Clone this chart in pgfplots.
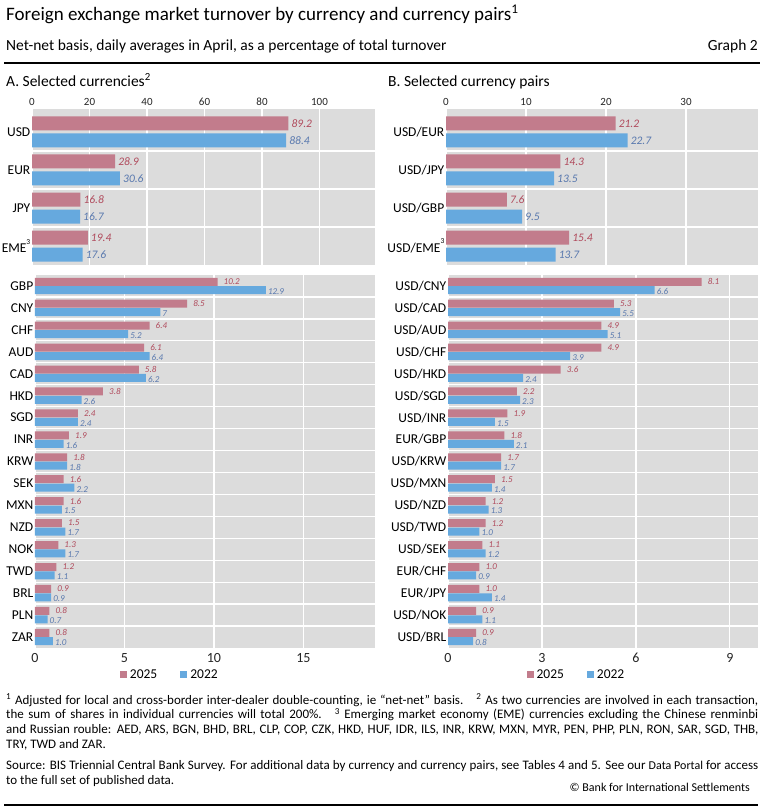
\documentclass[border=0pt]{standalone}
\usepackage{fontspec}
\setmainfont{Carlito}
\usepackage{pgfplots}
\pgfplotsset{compat=1.18}
\definecolor{bispink}{HTML}{C27C8C}
\definecolor{bisblue}{HTML}{66A9DE}
\definecolor{bisgray}{HTML}{DCDCDC}
\definecolor{labred}{HTML}{B04A5C}
\definecolor{labblue}{HTML}{5878AE}
\newcommand{\fs}[1]{\fontsize{#1}{#1}\selectfont}
\newcommand{\supthree}{\raisebox{0.62em}{\fs{7.5}3}}

\pgfplotsset{
  bis/.style={
    xbar, scale only axis, clip=false, xmin=0,
    axis background/.style={fill=bisgray},
    axis line style={draw=none},
    major tick length=0pt,
    xmajorgrids=true, ymajorgrids=false,
    grid style={white, line width=1.3pt},
    tick style={draw=none},
    yticklabel style={font=\fs{13.5}, text=black, inner sep=1.5pt},
    xticklabel style={text=black!85},
    /pgf/number format/assume math mode=true,
    point meta=explicit symbolic,
    nodes near coords,
    extra y tick style={grid=major, major tick length=0pt},
    extra y tick labels={},
  },
  bistop/.style={
    bis, height=156pt, ymin=0.5, ymax=4.605,
    ytick={1,2,3,4}, extra y ticks={1.5,2.5,3.5},
    xticklabel pos=upper,
    xticklabel style={font=\fs{11}},
  },
  bisbot/.style={
    bis, height=373pt, ymin=0.5, ymax=17.5,
    ytick={1,...,17}, extra y ticks={1.5,2.5,...,16.5},
    xticklabel style={font=\fs{14}, yshift=-2pt},
    legend style={anchor=center, draw=none, fill=none, font=\fs{13.5},
      legend columns=2, /tikz/every even column/.append style={column sep=20pt},
      /tikz/every odd column/.append style={column sep=0pt},
      nodes={inner sep=3pt}},
    legend image code/.code={\fill[##1, draw=none] (0pt,-3.5pt) rectangle (7pt,3.5pt);},
  },
  pinktop/.style={fill=bispink, draw=none, bar width=14pt, bar shift=8.5pt,
    every node near coord/.append style={anchor=west, text=labred, font=\fs{11.5}\itshape, inner sep=3pt}},
  bluetop/.style={fill=bisblue, draw=none, bar width=14pt, bar shift=-8.5pt,
    every node near coord/.append style={anchor=west, text=labblue, font=\fs{11.5}\itshape, inner sep=3pt}},
  pinkbot/.style={fill=bispink, draw=none, bar width=8pt, bar shift=4.2pt,
    every node near coord/.append style={anchor=west, text=labred, font=\fs{9}\itshape, inner sep=2pt, xshift=4pt}},
  bluebot/.style={fill=bisblue, draw=none, bar width=8pt, bar shift=-4.2pt,
    every node near coord/.append style={anchor=west, text=labblue, font=\fs{9}\itshape, inner sep=2pt, yshift=-1.5pt}},
}

\begin{document}
\begin{tikzpicture}
\path[use as bounding box, fill=white] (0,0) rectangle (764pt,-812pt);

% Titles
\node[anchor=base west, inner sep=0] at (6pt,-20pt) {\fs{19}Foreign exchange market turnover by currency and currency pairs\textsuperscript{1}};
\node[anchor=base west, inner sep=0] at (6pt,-50pt) {\fs{15.5}Net-net basis, daily averages in April, as a percentage of total turnover};
\node[anchor=base east, inner sep=0] at (758pt,-50pt) {\fs{15.5}Graph 2};
\draw[line width=2pt] (4pt,-63pt) -- (760pt,-63pt);
\node[anchor=base west, inner sep=0] at (6pt,-86pt) {\fs{15.5}A. Selected currencies\textsuperscript{2}};
\node[anchor=base west, inner sep=0] at (388pt,-86pt) {\fs{15.5}B. Selected currency pairs};

% Panel A top
\begin{axis}[bistop, at={(32pt,-109pt)}, anchor=north west, width=343pt,
  xmax=119.3, xtick={0,20,40,60,80,100},
  yticklabels={EME\supthree,JPY,EUR,USD}]
\addplot[pinktop] coordinates {(89.2,4)[89.2] (28.9,3)[28.9] (16.8,2)[16.8] (19.4,1)[19.4]};
\addplot[bluetop] coordinates {(88.4,4)[88.4] (30.6,3)[30.6] (16.7,2)[16.7] (17.6,1)[17.6]};
\end{axis}

% Panel B top
\begin{axis}[bistop, at={(446pt,-109pt)}, anchor=north west, width=312pt,
  xmax=39, xtick={0,10,20,30},
  yticklabels={USD/EME\supthree,USD/GBP,USD/JPY,USD/EUR}]
\addplot[pinktop] coordinates {(21.2,4)[21.2] (14.3,3)[14.3] (7.6,2)[7.6] (15.4,1)[15.4]};
\addplot[bluetop] coordinates {(22.7,4)[22.7] (13.5,3)[13.5] (9.5,2)[9.5] (13.7,1)[13.7]};
\end{axis}

% Panel A bottom
\begin{axis}[bisbot, at={(35pt,-275pt)}, anchor=north west, width=340pt,
  xmax=19, xtick={0,5,10,15},
  yticklabels={ZAR,PLN,BRL,TWD,NOK,NZD,MXN,SEK,KRW,INR,SGD,HKD,CAD,AUD,CHF,CNY,GBP},
  legend style={at={(0.398,-0.072)}}]
\addplot[pinkbot] coordinates {(10.2,17)[10.2] (8.5,16)[8.5] (6.4,15)[6.4] (6.1,14)[6.1] (5.8,13)[5.8] (3.8,12)[3.8] (2.4,11)[2.4] (1.9,10)[1.9] (1.8,9)[1.8] (1.6,8)[1.6] (1.6,7)[1.6] (1.5,6)[1.5] (1.3,5)[1.3] (1.2,4)[1.2] (0.9,3)[0.9] (0.8,2)[0.8] (0.8,1)[0.8]};
\addlegendentry{2025}
\addplot[bluebot] coordinates {(12.9,17)[12.9] (7,16)[7] (5.2,15)[5.2] (6.4,14)[6.4] (6.2,13)[6.2] (2.6,12)[2.6] (2.4,11)[2.4] (1.6,10)[1.6] (1.8,9)[1.8] (2.2,8)[2.2] (1.5,7)[1.5] (1.7,6)[1.7] (1.7,5)[1.7] (1.1,4)[1.1] (0.9,3)[0.9] (0.7,2)[0.7] (1.0,1)[1.0]};
\addlegendentry{2022}
\end{axis}

% Panel B bottom
\begin{axis}[bisbot, at={(448pt,-275pt)}, anchor=north west, width=310pt,
  xmax=9.9, xtick={0,3,6,9},
  yticklabels={USD/BRL,USD/NOK,EUR/JPY,EUR/CHF,USD/SEK,USD/TWD,USD/NZD,USD/MXN,USD/KRW,EUR/GBP,USD/INR,USD/SGD,USD/HKD,USD/CHF,USD/AUD,USD/CAD,USD/CNY},
  legend style={at={(0.416,-0.072)}}]
\addplot[pinkbot] coordinates {(8.1,17)[8.1] (5.3,16)[5.3] (4.9,15)[4.9] (4.9,14)[4.9] (3.6,13)[3.6] (2.2,12)[2.2] (1.9,11)[1.9] (1.8,10)[1.8] (1.7,9)[1.7] (1.5,8)[1.5] (1.2,7)[1.2] (1.2,6)[1.2] (1.1,5)[1.1] (1.0,4)[1.0] (1.0,3)[1.0] (0.9,2)[0.9] (0.9,1)[0.9]};
\addlegendentry{2025}
\addplot[bluebot] coordinates {(6.6,17)[6.6] (5.5,16)[5.5] (5.1,15)[5.1] (3.9,14)[3.9] (2.4,13)[2.4] (2.3,12)[2.3] (1.5,11)[1.5] (2.1,10)[2.1] (1.7,9)[1.7] (1.4,8)[1.4] (1.3,7)[1.3] (1.0,6)[1.0] (1.2,5)[1.2] (0.9,4)[0.9] (1.4,3)[1.4] (1.1,2)[1.1] (0.8,1)[0.8]};
\addlegendentry{2022}
\end{axis}

% Footnotes
\node[anchor=base west, inner sep=0] at (6pt,-704pt) {\fs{13}\makebox[752pt][s]{\textsuperscript{1} Adjusted for local and cross-border inter-dealer double-counting, ie “net-net” basis.\quad \textsuperscript{2} As two currencies are involved in each transaction,}};
\node[anchor=base west, inner sep=0] at (6pt,-718.7pt) {\fs{13}\makebox[752pt][s]{the sum of shares in individual currencies will total 200\%.\quad \textsuperscript{3} Emerging market economy (EME) currencies excluding the Chinese renminbi}};
\node[anchor=base west, inner sep=0] at (6pt,-733.4pt) {\fs{13}\makebox[752pt][s]{and Russian rouble: AED, ARS, BGN, BHD, BRL, CLP, COP, CZK, HKD, HUF, IDR, ILS, INR, KRW, MXN, MYR, PEN, PHP, PLN, RON, SAR, SGD, THB,}};
\node[anchor=base west, inner sep=0] at (6pt,-748pt) {\fs{13}TRY, TWD and ZAR.};
\node[anchor=base west, inner sep=0] at (6pt,-769pt) {\fs{13}\makebox[752pt][s]{Source: BIS Triennial Central Bank Survey. For additional data by currency and currency pairs, see Tables 4 and 5. See our {\fs{12}Data Portal} for access}};
\node[anchor=base west, inner sep=0] at (6pt,-784pt) {\fs{13}to the full set of published data.};
\node[anchor=base east, inner sep=0] at (750pt,-791pt) {\fs{12}© Bank for International Settlements};
\draw[line width=2pt] (4pt,-805pt) -- (758pt,-805pt);
\end{tikzpicture}
\end{document}
